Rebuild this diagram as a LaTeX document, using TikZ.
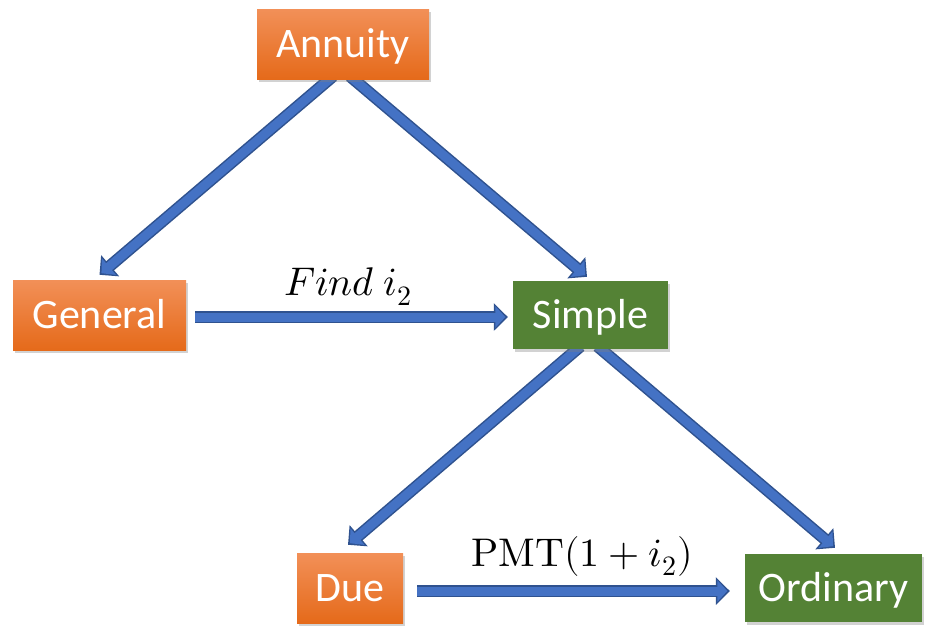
\documentclass[tikz,border=0pt]{standalone}
\usepackage{fontspec}
\usepackage{unicode-math}
\setmainfont{Carlito}
\usetikzlibrary{arrows.meta,shadows,backgrounds}
\definecolor{orTop}{RGB}{242,144,88}
\definecolor{orBot}{RGB}{229,106,26}
\definecolor{grn}{RGB}{84,130,53}
\definecolor{arrIn}{RGB}{68,114,196}
\definecolor{arrOut}{RGB}{47,82,143}
\begin{document}
\begin{tikzpicture}[x=1pt,y=-1pt,
  box/.style={inner sep=0pt, text=white, font=\fontsize{42}{50}\selectfont,
    text height=27pt, text depth=0pt,
    drop shadow={shadow xshift=1.5pt,shadow yshift=-3pt,opacity=0.35}},
  obox/.style={box, top color=orTop, bottom color=orBot},
  gbox/.style={box, fill=grn},
  arr/.style={draw=arrOut, line width=12pt, -{Triangle[width=27pt,length=14pt]},
    postaction={draw=arrIn, line width=9pt, shorten >=2.5pt, -{Triangle[width=21pt,length=10pt]}}},
  lbl/.style={font=\fontsize{40}{48}\selectfont, inner sep=0pt}]
\useasboundingbox (0,0) rectangle (925,625);
\node[obox, minimum width=172pt, minimum height=70pt] (A) at (343,44) {Annuity};
\node[obox, minimum width=173pt, minimum height=70pt] (G) at (99.5,315) {General};
\node[gbox, minimum width=155pt, minimum height=68pt] (S) at (590.5,315) {Simple};
\node[obox, minimum width=106pt, minimum height=70pt] (D) at (350,588) {Due};
\node[gbox, minimum width=177pt, minimum height=68pt] (O) at (833.5,588) {Ordinary};
\node[lbl] (L1) at (348,287) {$Find\ i_2$};
\node[lbl] (L2) at (582,556) {$\symup{PMT}(1+i_2)$};
\begin{scope}[on background layer]
\fill[white] (0,0) rectangle (925,625);
\draw[arr] ([xshift=-10pt,yshift=3pt]A.south) -- ([yshift=5pt]G.north);
\draw[arr] ([xshift=7pt,yshift=3pt]A.south) -- ([xshift=-3.5pt,yshift=4pt]S.north);
\draw[arr] ([xshift=9pt,yshift=-2pt]G.east) -- ([xshift=-5pt,yshift=-2pt]S.west);
\draw[arr] ([xshift=-10pt,yshift=3pt]S.south) -- ([xshift=-2pt,yshift=8pt]D.north);
\draw[arr] ([xshift=7pt,yshift=3pt]S.south) -- ([xshift=1.5pt,yshift=6pt]O.north);
\draw[arr] ([xshift=14pt,yshift=-3pt]D.east) -- ([xshift=-15pt,yshift=-3pt]O.west);
\end{scope}
\end{tikzpicture}
\end{document}
